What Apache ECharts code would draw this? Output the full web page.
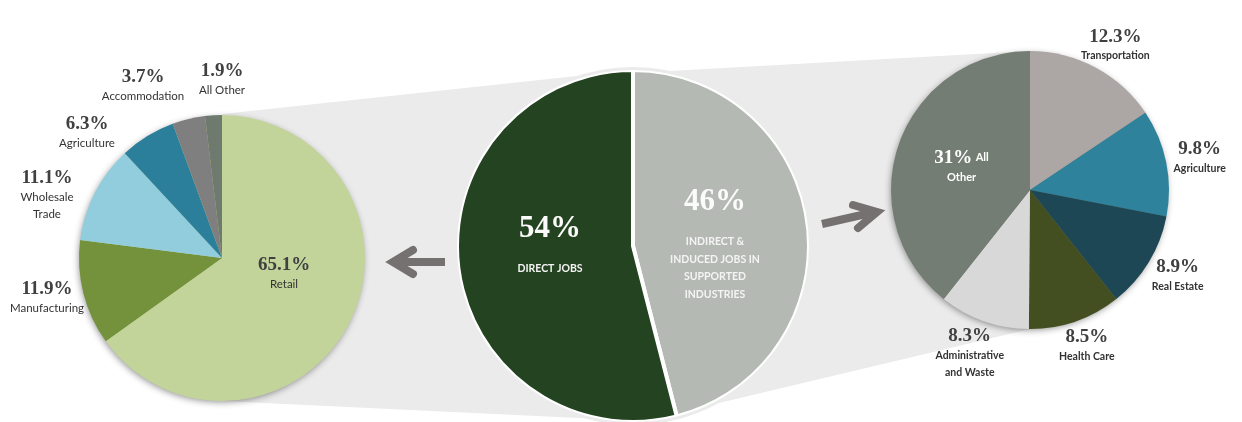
<!DOCTYPE html>
<html>
<head>
<meta charset="utf-8">
<script src="https://cdn.jsdelivr.net/npm/echarts@6/dist/echarts.min.js"></script>
<style>
  html, body { margin: 0; padding: 0; background: #ffffff; }
  #chart { width: 1242px; height: 422px; }
</style>
</head>
<body>
<div id="chart"></div>
<script>
// ---- Data -------------------------------------------------------------
// Share of all jobs: direct jobs vs. jobs in supported industries
const jobCategories = ['INDIRECT &\nINDUCED JOBS IN\nSUPPORTED\nINDUSTRIES', 'DIRECT JOBS'];
const jobShares = [46, 54];

// Direct jobs by industry (%)
const directCategories = ['Retail', 'Manufacturing', 'Wholesale\nTrade', 'Agriculture', 'Accommodation', 'All Other'];
const directShares = [65.1, 11.9, 11.1, 6.3, 3.7, 1.9];

// Indirect & induced jobs by supported industry (%)
const supportedCategories = ['Transportation', 'Agriculture', 'Real Estate', 'Health Care', 'Administrative\nand Waste', 'All Other'];
const supportedShares = [12.3, 9.8, 8.9, 8.5, 8.3, 31];

// ---- Styling ------------------------------------------------------------
const jobColors = ['#b4b9b3', '#244321'];
const directColors = ['#c3d49b', '#74913c', '#92cddd', '#2c7f9b', '#7f7f7f', '#6e7a6e'];
const supportedColors = ['#aca7a5', '#2e829b', '#1e4756', '#434f20', '#d8d8d8', '#737d73'];

const BAND = '#ebebeb';
const ARROW = '#767171';
const SERIF = 'Liberation Serif';
const SANS = 'Lato';

// Pie placement (pixels)
const L = { cx: 222, cy: 258, r: 143 };
const M = { cx: 633, cy: 246, r: 176 };
const R = { cx: 1030, cy: 190, r: 139 };

// Where the text blocks of the side/centre pies sit (x, centre of the % line)
const directLabelAnchors = [[284, 265], [47, 289], [47, 178], [87, 124], [143, 77], [222, 71]];
const jobLabelAnchors = [[715, 202], [550, 229]];

const pctLine = 22;

function sideRich(nameWeight, nameSize) {
  return {
    p: { fontFamily: SERIF, fontWeight: 'bold', fontSize: 19, color: '#404040', lineHeight: pctLine, align: 'center' },
    n: { fontFamily: SANS, fontWeight: nameWeight, fontSize: nameSize, color: '#333333', lineHeight: 17, align: 'center' },
    pw: { fontFamily: SERIF, fontWeight: 'bold', fontSize: 19, color: '#ffffff', lineHeight: pctLine },
    nw: { fontFamily: SANS, fontWeight: 'bold', fontSize: 11, color: '#ffffff', lineHeight: 17 }
  };
}

function nameLines(name, tag) {
  return name.split('\n').map(s => `{${tag}|${s}}`).join('\n');
}

function sideLabel(p) {
  return `{p|${p.value}%}\n` + nameLines(p.name, 'n');
}

// ---- Series -----------------------------------------------------------
const directSeries = {
  type: 'pie',
  center: [L.cx, L.cy],
  radius: L.r,
  startAngle: 90,
  clockwise: true,
  avoidLabelOverlap: false,
  silent: true,
  data: directCategories.map((name, i) => ({
    name, value: directShares[i], itemStyle: { color: directColors[i] }
  })),
  label: { show: true, position: 'outside', formatter: sideLabel, rich: sideRich('normal', 11.5) },
  labelLine: { show: false },
  labelLayout: p => ({
    x: directLabelAnchors[p.dataIndex][0],
    y: directLabelAnchors[p.dataIndex][1] - pctLine / 2,
    align: 'center',
    verticalAlign: 'top'
  })
};

const jobSeries = {
  type: 'pie',
  center: [M.cx, M.cy],
  radius: M.r,
  startAngle: 90,
  clockwise: true,
  avoidLabelOverlap: false,
  silent: true,
  data: jobCategories.map((name, i) => ({
    name, value: jobShares[i], itemStyle: { color: jobColors[i] }
  })),
  itemStyle: { borderColor: '#ffffff', borderWidth: 4 },
  label: {
    show: true,
    position: 'inside',
    formatter: p => `{big|${p.value}%}\n` + nameLines(p.name, 'cap'),
    rich: {
      big: { fontFamily: SERIF, fontWeight: 'bold', fontSize: 31, color: '#fbfbfb', lineHeight: 62, align: 'center' },
      cap: { fontFamily: SANS, fontWeight: 'bold', fontSize: 10.5, color: '#f4f4f4', lineHeight: 17.5, align: 'center' }
    }
  },
  labelLine: { show: false },
  labelLayout: p => ({
    x: jobLabelAnchors[p.dataIndex][0],
    y: jobLabelAnchors[p.dataIndex][1] - 31,
    align: 'center',
    verticalAlign: 'top'
  })
};

const lastSupported = supportedCategories.length - 1;

const supportedSeries = {
  type: 'pie',
  center: [R.cx, R.cy],
  radius: R.r,
  startAngle: 90,
  clockwise: true,
  avoidLabelOverlap: false,
  silent: true,
  data: supportedCategories.map((name, i) => {
    const item = { name, value: supportedShares[i], itemStyle: { color: supportedColors[i] } };
    if (i === lastSupported) {
      const words = name.split(' ');
      item.label = {
        position: 'inside',
        formatter: p => `{pw|${p.value}%} {nw|${words[0]}}\n{nw|${words.slice(1).join(' ')}}`
      };
    }
    return item;
  }),
  label: { show: true, position: 'outside', formatter: sideLabel, rich: sideRich('bold', 10.5) },
  labelLine: { show: true, length: 0, length2: 0, lineStyle: { opacity: 0, width: 0 } },
  // Outside labels: centred just beyond the rim, along each slice's middle direction
  labelLayout: p => {
    const pts = p.labelLinePoints;
    if (!pts || !pts[0]) return {};
    const ex = pts[0][0], ey = pts[0][1];
    const dx = ex - R.cx, dy = ey - R.cy;
    const len = Math.hypot(dx, dy) || 1;
    const ux = dx / len, uy = dy / len;
    const gap = 8;
    const w = p.labelRect.width, h = p.labelRect.height;
    return {
      x: ex + ux * gap + ux * w / 2,
      y: ey + uy * gap + uy * h / 2,
      align: 'center',
      verticalAlign: 'middle'
    };
  }
};

// ---- Connecting bands, soft pie shadows and arrows ------------------------
const graphics = [
  {
    type: 'polygon', z: 0, silent: true,
    shape: { points: [[L.cx, L.cy - L.r - 1], [M.cx, M.cy - M.r], [M.cx + 30, M.cy + M.r], [L.cx, L.cy + L.r]] },
    style: { fill: BAND }
  },
  {
    type: 'polygon', z: 0, silent: true,
    shape: { points: [[M.cx, M.cy - M.r + 3], [R.cx, R.cy - R.r], [R.cx, R.cy + R.r], [M.cx + 44, M.cy + M.r - 9]] },
    style: { fill: BAND }
  },
  {
    type: 'circle', z: 1, silent: true,
    shape: { cx: L.cx, cy: L.cy, r: L.r - 1 },
    style: { fill: directColors[0], shadowBlur: 7, shadowColor: 'rgba(0,0,0,0.45)', shadowOffsetX: -1, shadowOffsetY: 2 }
  },
  {
    type: 'circle', z: 1, silent: true,
    shape: { cx: R.cx, cy: R.cy, r: R.r - 1 },
    style: { fill: supportedColors[lastSupported], shadowBlur: 7, shadowColor: 'rgba(0,0,0,0.45)', shadowOffsetX: -1, shadowOffsetY: 2 }
  },
  // the slice separator only: hide the outer half of the white border on the rim
  {
    type: 'circle', z: 5, silent: true,
    shape: { cx: M.cx, cy: M.cy, r: M.r + 1.5 },
    style: { fill: null, stroke: BAND, lineWidth: 3 }
  },
  // left arrow
  {
    type: 'polyline', z: 3, silent: true,
    shape: { points: [[445, 262], [394, 262]] },
    style: { stroke: ARROW, lineWidth: 8, lineCap: 'butt', fill: null }
  },
  {
    type: 'polyline', z: 3, silent: true,
    shape: { points: [[413, 250], [393, 262], [413, 274]] },
    style: { stroke: ARROW, lineWidth: 8, lineCap: 'round', lineJoin: 'miter', fill: null }
  },
  // right arrow
  {
    type: 'polyline', z: 3, silent: true,
    shape: { points: [[822, 224], [875, 212]] },
    style: { stroke: ARROW, lineWidth: 8, lineCap: 'butt', fill: null }
  },
  {
    type: 'polyline', z: 3, silent: true,
    shape: { points: [[853, 205], [877, 212], [858, 228]] },
    style: { stroke: ARROW, lineWidth: 8, lineCap: 'round', lineJoin: 'miter', fill: null }
  }
];

const chart = echarts.init(document.getElementById('chart'), null, { renderer: 'canvas' });
chart.setOption({
  backgroundColor: '#ffffff',
  animation: false,
  graphic: { elements: graphics },
  series: [directSeries, jobSeries, supportedSeries]
});
</script>
</body>
</html>
